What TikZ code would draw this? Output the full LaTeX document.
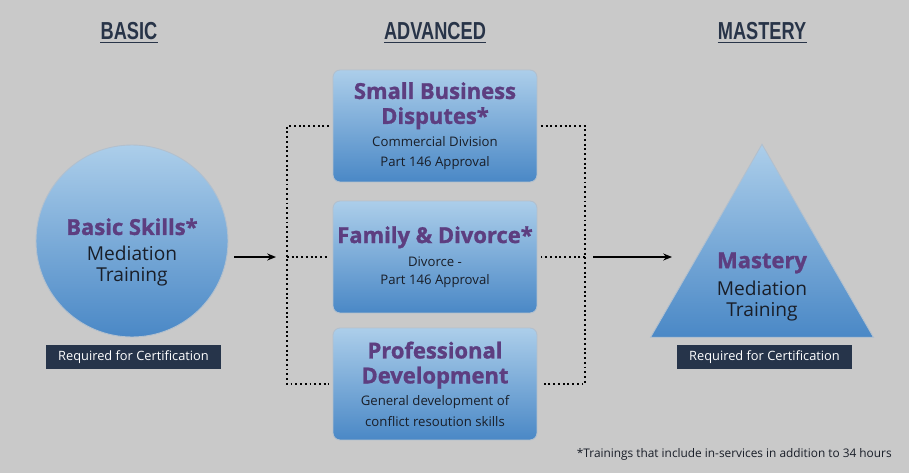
\documentclass[tikz,border=0pt]{standalone}
\usepackage{fontspec}
\setmainfont{Open Sans}[BoldFeatures={FakeBold=1.3}]
\newfontfamily\headfont[FakeStretch=0.74]{Liberation Sans}
\usetikzlibrary{shapes.geometric,arrows.meta,calc}

\definecolor{bgray}{RGB}{201,201,201}
\definecolor{navy}{RGB}{40,52,72}
\definecolor{tagnavy}{RGB}{38,52,74}
\definecolor{plum}{RGB}{93,62,128}
\definecolor{skytop}{RGB}{172,206,234}
\definecolor{skybot}{RGB}{74,136,198}
\definecolor{rim}{RGB}{178,192,206}
\definecolor{ink}{RGB}{25,30,40}

\newcommand{\fixsp}{\spaceskip=\fontdimen2\font\xspaceskip=\fontdimen2\font}
\newcommand{\ttl}{\fontsize{12.5}{14.2}\selectfont\bfseries\fixsp\color{plum}}
\newcommand{\subtxt}{\fontsize{7.5}{11.4}\selectfont\mdseries\fixsp\color{ink}}
\newcommand{\bigtxt}{\fontsize{10.9}{12}\selectfont\mdseries\fixsp\color{ink}}

\tikzset{
  heading/.style={font=\headfont\bfseries\fontsize{14}{16}\selectfont, text=navy, inner sep=0pt},
  card/.style={rectangle, rounded corners=4pt, draw=rim, line width=0.5pt,
    top color=skytop, bottom color=skybot, minimum width=4.08cm, minimum height=2.24cm,
    text width=4.06cm, align=center, inner sep=0pt},
  ball/.style={circle, draw=rim, line width=0.5pt, top color=skytop, bottom color=skybot,
    minimum size=3.84cm, inner sep=0pt},
  pyramid/.style={regular polygon, regular polygon sides=3, draw=rim, line width=0.5pt,
    top color=skytop, bottom color=skybot, minimum size=5.15cm, inner sep=0pt},
  inside/.style={text width=3.6cm, align=center, inner sep=0pt},
  tag/.style={fill=tagnavy, text=white, minimum width=3.5cm, minimum height=0.48cm,
    inner sep=0pt, font=\fontsize{7.3}{8}\selectfont},
  dots/.style={line width=1.1pt, dash pattern=on 1.1pt off 1.6pt, black},
  arr/.style={-{Stealth[length=5pt,width=4pt]}, line width=0.8pt, black}
}

\begin{document}
\begin{tikzpicture}[x=0.02cm,y=-0.02cm]
  \fill[bgray] (0,0) rectangle (909,473);
  \useasboundingbox (0,0) rectangle (909,473);

  % column headings
  \node[heading] (hbas) at (129,31) {BASIC};
  \node[heading] (hadv) at (435,31) {ADVANCED};
  \node[heading] (hmas) at (762,31) {MASTERY};
  \foreach \h in {hbas,hadv,hmas}
    \draw[navy, line width=0.8pt] ([yshift=-1.8pt]\h.base west) -- ([yshift=-1.8pt]\h.base east);

  % basic
  \node[ball] (bs) at (132,241) {};
  \node[inside] (bstxt) at (132,252) {\ttl Basic Skills*\par\vskip2.3pt\bigtxt Mediation\\Training};
  \node[tag] (bsreq) at (133.5,357) {Required for Certification};

  % advanced
  \node[card] (sb) at (435,126) {\ttl Small Business\\Disputes*\par\vskip1.5pt\subtxt Commercial Division\\Part 146 Approval\par\vskip-3.4pt};
  \node[card] (fd) at (435,257) {\ttl Family \& Divorce*\par\vskip2.2pt\subtxt Divorce -\\[-1.4pt]Part 146 Approval\par\vskip-3.4pt};
  \node[card] (pd) at (435,384) {\ttl Professional\\Development\par\vskip1pt\subtxt General development of\\conflict resoution skills};

  % mastery
  \node[pyramid] (mas) at (762,273) {};
  \node[inside] (mastxt) at (762,287) {\ttl Mastery\par\vskip2.8pt\bigtxt\baselineskip=13pt Mediation\\Training};
  \node[tag] (masreq) at (764.5,357) {Required for Certification};

  % brackets
  \coordinate (lmid) at (287,257);
  \coordinate (rmid) at (585,257);
  \coordinate (masin) at (672,257);
  \draw[dots] ([xshift=-2pt]sb.west) -| (lmid) |- ([xshift=-2pt]pd.west);
  \draw[dots] (lmid) -- ([xshift=-2pt]fd.west);
  \draw[dots] ([xshift=2pt]sb.east) -| (rmid) |- ([xshift=2pt]pd.east);
  \draw[dots] (rmid) -- ([xshift=2pt]fd.east);

  \draw[arr] ($(bs.east |- lmid)+(6,0)$) -- ($(lmid)+(-11,0)$);
  \draw[arr] ($(rmid)+(8,0)$) -- (masin);

  \node[anchor=east, inner sep=0pt, text=ink, font=\fontsize{6.75}{8}\selectfont] (note) at (892,454)
    {*Trainings that include in-services in addition to 34 hours};
\end{tikzpicture}
\end{document}
